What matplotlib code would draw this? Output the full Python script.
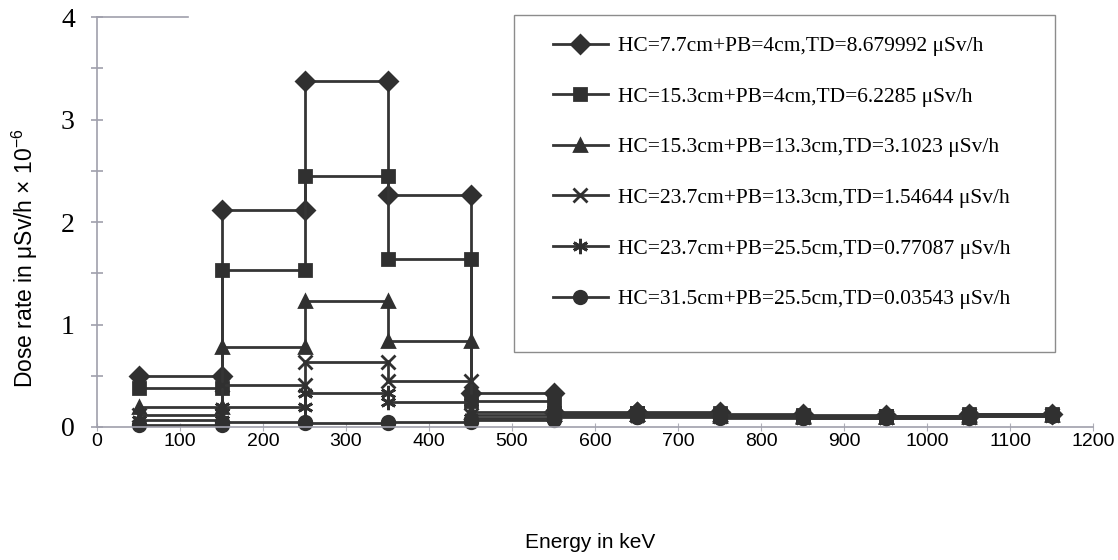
import numpy as np
import matplotlib
matplotlib.use("Agg")
import matplotlib.pyplot as plt
from matplotlib.patches import Rectangle

# bin edges in keV (each bin drawn as a flat step with a marker at both ends)
bin_edges = [50, 150, 250, 350, 450, 550, 650, 750, 850, 950, 1050, 1150]

labels = [
    "HC=7.7cm+PB=4cm,TD=8.679992 \u03bcSv/h",
    "HC=15.3cm+PB=4cm,TD=6.2285 \u03bcSv/h",
    "HC=15.3cm+PB=13.3cm,TD=3.1023 \u03bcSv/h",
    "HC=23.7cm+PB=13.3cm,TD=1.54644 \u03bcSv/h",
    "HC=23.7cm+PB=25.5cm,TD=0.77087 \u03bcSv/h",
    "HC=31.5cm+PB=25.5cm,TD=0.03543 \u03bcSv/h",
]

# dose rate per bin (x 1e-6 uSv/h)
hc77_pb4 = [0.50, 2.12, 3.38, 2.26, 0.33, 0.15, 0.15, 0.13, 0.12, 0.11, 0.13]
hc153_pb4 = [0.38, 1.53, 2.45, 1.64, 0.25, 0.14, 0.14, 0.12, 0.11, 0.11, 0.13]
hc153_pb133 = [0.20, 0.78, 1.23, 0.84, 0.15, 0.13, 0.13, 0.11, 0.10, 0.10, 0.12]
hc237_pb133 = [0.12, 0.41, 0.63, 0.45, 0.12, 0.12, 0.12, 0.11, 0.10, 0.10, 0.12]
hc237_pb255 = [0.07, 0.20, 0.33, 0.24, 0.09, 0.11, 0.11, 0.10, 0.09, 0.09, 0.11]
hc315_pb255 = [0.02, 0.05, 0.04, 0.05, 0.07, 0.10, 0.10, 0.09, 0.09, 0.09, 0.11]

series = [hc77_pb4, hc153_pb4, hc153_pb133, hc237_pb133, hc237_pb255, hc315_pb255]
markers = ["D", "s", "^", "x", (6, 2, 0), "o"]
msizes = [9, 9, 9, 10, 11, 9]

plt.rcParams["font.family"] = ["Liberation Sans", "DejaVu Sans"]
plt.rcParams["mathtext.default"] = "regular"

fig = plt.figure(figsize=(11.18, 5.6), dpi=100)
ax = fig.add_axes([97 / 1118, 133 / 560, 996 / 1118, 410 / 560])

edges = np.array(bin_edges)
step_x = np.column_stack([edges[:-1], edges[1:]]).ravel()
for vals, m, ms, lab in zip(series, markers, msizes, labels):
    step_y = np.repeat(vals, 2)
    ax.plot(step_x, step_y, color="#353535", lw=2.0, marker=m, ms=ms,
            mec="#303030", mfc="#303030", mew=2.0, label=lab, clip_on=False)

ax.set_xlim(0, 1200)
ax.set_ylim(0, 4)

ax.spines["right"].set_visible(False)
for s in ["left", "bottom", "top"]:
    ax.spines[s].set_color("#a0a0ac")
    ax.spines[s].set_linewidth(1.2)
ax.spines["top"].set_bounds(0, 110)

ax.set_xticks(np.arange(0, 1201, 100))
ax.tick_params(axis="x", direction="inout", length=6, color="#b0b0b8",
               labelsize=14, pad=1)
ax.set_yticks([0, 1, 2, 3, 4])
ax.set_yticks(np.arange(0.5, 4, 1), minor=True)
ax.tick_params(axis="y", which="both", direction="inout", length=8,
               color="#a0a0ac", width=1.2, pad=12)
for t in ax.get_yticklabels():
    t.set_fontfamily("Liberation Serif")
    t.set_fontsize(20)

fig.text(590 / 1118, 1 - 543 / 560, "Energy in keV", ha="center", va="center",
         fontsize=15)
fig.text(25 / 1118, 1 - 258 / 560, "Dose rate in \u03bcSv/h \u00d7 10$^{-6}$",
         ha="center", va="center", rotation=90, fontsize=16.5)

# legend box drawn separately so its size matches the original frame
fig.patches.append(Rectangle((514 / 1118, 1 - 352 / 560), 541 / 1118, 337 / 560,
                             transform=fig.transFigure, fill=False,
                             ec="#8c8c8c", lw=1.0))
leg = fig.legend(loc="upper left", bbox_to_anchor=(553 / 1118, 1 - 36 / 560),
                 numpoints=1, handlelength=2.55, handletextpad=0.45,
                 labelspacing=1.42, borderpad=0, borderaxespad=0, frameon=False,
                 prop={"family": "Liberation Serif", "size": 15.5})

fig.savefig("out.png", dpi=100)
